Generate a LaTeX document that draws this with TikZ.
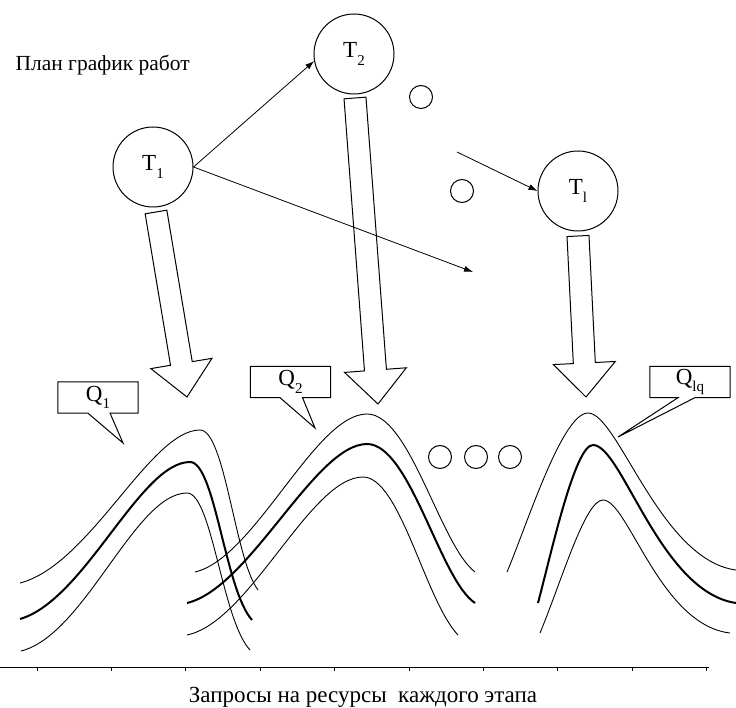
\documentclass[tikz,border=0pt]{standalone}
\usepackage{fontspec}
\setmainfont{Liberation Serif}
\usetikzlibrary{arrows.meta,calc}
\newcommand\lblfont{\fontsize{23}{26}\selectfont}
\newcommand\titlefont{\fontsize{21.5}{25}\selectfont}
\newcommand\capfont{\fontsize{23}{26}\selectfont}
\newcommand\subl[1]{\raisebox{-0.32em}{\fontsize{15}{15}\selectfont #1}}
\newcommand\blockarr[2]{%
  \coordinate (#1h) at ($(#2)!34pt!(#1)$);
  \draw[blockarrow] ($(#1)!11pt!90:(#2)$) -- ($(#1h)!11pt!-90:(#1)$) -- ($(#1h)!31pt!-90:(#1)$) -- (#2)
    -- ($(#1h)!31pt!90:(#1)$) -- ($(#1h)!11pt!90:(#1)$) -- ($(#1)!11pt!-90:(#2)$) -- cycle;}
\begin{document}
\begin{tikzpicture}[x=1pt,y=-1pt,
  bignode/.style={circle,draw,fill=white,line width=1pt,minimum size=80pt,inner sep=0pt,font=\lblfont},
  dot/.style={circle,draw,line width=1pt,minimum size=23pt,inner sep=0pt},
  link/.style={line width=0.8pt,-{Latex[length=9pt,width=6pt]}},
  blockarrow/.style={draw,fill=white,line width=1pt,line join=miter},
  qbox/.style={minimum width=80pt,minimum height=31pt,inner sep=0pt,font=\lblfont},
  callout/.style={draw,fill=white,line width=1pt},
  thincurve/.style={line width=0.9pt},
  thickcurve/.style={line width=2pt},
]
\useasboundingbox (0,0) rectangle (736,708);

% block arrows
\coordinate (a1) at (156,212); \coordinate (p1) at (187,397);
\coordinate (a2) at (355,98);  \coordinate (p2) at (378,404);
\coordinate (a3) at (578,236); \coordinate (p3) at (586,397);
\blockarr{a1}{p1}
\blockarr{a2}{p2}
\blockarr{a3}{p3}

\node[anchor=base west,font=\titlefont] (title) at (12,71) {План график работ};
\node[bignode] (T1) at (153,167) {T\subl{1}};
\node[bignode] (T2) at (354,54) {T\subl{2}};
\node[bignode] (Tl) at (578,191) {T\subl{l}};
\node[dot] (d1) at (421,97) {};
\node[dot] (d2) at (462,191) {};
\coordinate (e1) at (473,272);
\coordinate (s1) at (457,152);
\draw[link] (T1.east) -- (T2.190);
\draw[link] (T1.east) -- (e1);
\draw[link] (s1) -- (Tl.west);

% curves group 1
\draw[thincurve] (20,583) .. controls (90,565) and (150,430) .. (200,430) .. controls (225,430) and (235,560) .. (258,590);
\draw[thickcurve] (20,619) .. controls (85,600) and (140,462) .. (190,462) .. controls (215,462) and (225,590) .. (252,620);
\draw[thincurve] (21,651) .. controls (85,635) and (135,493) .. (187,493) .. controls (212,493) and (222,620) .. (250,650);
% group 2
\draw[thincurve] (195,572) .. controls (255,558) and (315,414) .. (367,414) .. controls (410,414) and (440,545) .. (475,572);
\draw[thickcurve] (187,603) .. controls (250,588) and (315,444) .. (367,444) .. controls (410,444) and (440,580) .. (475,603);
\draw[thincurve] (187,635) .. controls (250,622) and (310,477) .. (363,477) .. controls (400,477) and (425,600) .. (458,635);
% group 3
\draw[thincurve] (507,572) .. controls (527,525) and (562,413) .. (588,413) .. controls (618,413) and (660,560) .. (736,570);
\draw[thickcurve] (538,603) .. controls (552,550) and (575,445) .. (593,445) .. controls (622,445) and (660,592) .. (736,603);
\draw[thincurve] (540,633) .. controls (562,580) and (585,500) .. (603,500) .. controls (628,500) and (660,625) .. (730,633);

% dots row
\node[dot] (d3) at (440,457) {};
\node[dot] (d4) at (476,457) {};
\node[dot] (d5) at (510,457) {};

% callouts
\node[qbox] (q1) at (98,397.5) {};
\coordinate (q1t) at (123,443);
\draw[callout] (q1.north west) -- (q1.north east) -- (q1.south east) -- ($(q1.south west)!0.65!(q1.south east)$) -- (q1t) -- ($(q1.south west)!0.375!(q1.south east)$) -- (q1.south west) -- cycle;
\node[qbox] (q1l) at (q1) {Q\subl{1}};
\node[qbox] (q2) at (290.5,382) {};
\coordinate (q2t) at (315,428);
\draw[callout] (q2.north west) -- (q2.north east) -- (q2.south east) -- ($(q2.south west)!0.65!(q2.south east)$) -- (q2t) -- ($(q2.south west)!0.37!(q2.south east)$) -- (q2.south west) -- cycle;
\node[qbox] (q2l) at (q2) {Q\subl{2}};
\node[qbox] (q3) at (690,382) {};
\coordinate (q3t) at (618,437);
\draw[callout] (q3.north west) -- (q3.north east) -- (q3.south east) -- ($(q3.south west)!0.56!(q3.south east)$) -- (q3t) -- ($(q3.south west)!0.35!(q3.south east)$) -- (q3.south west) -- cycle;
\node[qbox] (q3l) at (q3) {Q\subl{lq}};

% axis
\coordinate (ax0) at (0,667);
\coordinate (ax1) at (709,667);
\draw[line width=1pt] (ax0) -- (ax1);
\foreach \x in {37,111.4,185.8,260.2,334.6,409,483.4,557.8,632.2,706.6}
  \draw[line width=0.8pt] (\x,667) -- (\x,671);
\node[anchor=base,font=\capfont] (cap) at (363,702) {Запросы на ресурсы\ \ каждого этапа};
\end{tikzpicture}
\end{document}
